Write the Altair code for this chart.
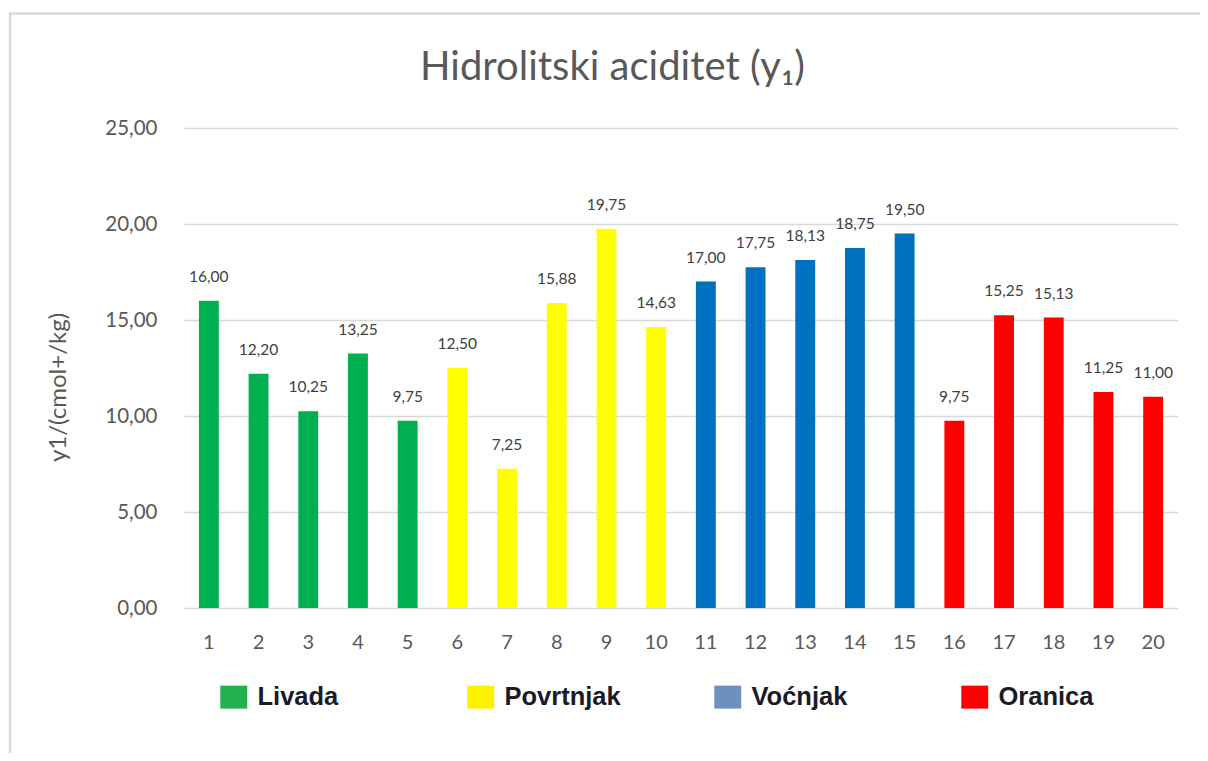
import altair as alt
import pandas as pd

title_text = "Hidrolitski aciditet (y\u2081)"
y_title = "y1/(cmol+/kg)"
samples = [str(i) for i in range(1, 21)]
values = [16.00, 12.20, 10.25, 13.25, 9.75,
          12.50, 7.25, 15.88, 19.75, 14.63,
          17.00, 17.75, 18.13, 18.75, 19.50,
          9.75, 15.25, 15.13, 11.25, 11.00]
groups = ["Livada"] * 5 + ["Povrtnjak"] * 5 + ["Voćnjak"] * 5 + ["Oranica"] * 5
group_names = ["Livada", "Povrtnjak", "Voćnjak", "Oranica"]
bar_colors = ["#00B050", "#FFFF00", "#0070C0", "#FF0000"]
legend_colors = ["#22B14C", "#FFF200", "#6F8FC0", "#FF0000"]
y_ticks = [0, 5, 10, 15, 20, 25]

df = pd.DataFrame({
    "sample": samples,
    "value": values,
    "group": groups,
    "label": [f"{v:.2f}".replace(".", ",") for v in values],
})

FONT = "Lato"
GRAY = "#595959"

x_enc = alt.X("sample:N", sort=samples,
              scale=alt.Scale(paddingInner=0.6, paddingOuter=0.3),
              axis=alt.Axis(title=None, labelAngle=0, domain=False, ticks=False,
                            labelFontSize=20, labelColor=GRAY, labelFont=FONT,
                            labelPadding=24, grid=False))
y_enc = alt.Y("value:Q", scale=alt.Scale(domain=[0, 25], nice=False),
              axis=alt.Axis(values=y_ticks, title=y_title,
                            labelExpr="replace(format(datum.value, '.2f'), '.', ',')",
                            domain=False, ticks=False, grid=True,
                            gridColor="#D9D9D9", gridWidth=1.5,
                            labelFontSize=20.5, labelColor=GRAY, labelFont=FONT,
                            labelPadding=27,
                            titleFontSize=24, titleColor=GRAY, titleFont=FONT,
                            titleFontWeight="normal", titleX=-126, titleY=259,
                            titleBaseline="middle"))

base = alt.Chart(df)

bars = base.mark_bar().encode(
    x=x_enc, y=y_enc,
    color=alt.Color("group:N", scale=alt.Scale(domain=group_names, range=bar_colors),
                    legend=None),
)

labels = base.mark_text(fontSize=15.5, color="#404040", font=FONT,
                        baseline="alphabetic", dy=-19).encode(
    x=alt.X("sample:N", sort=samples), y="value:Q", text="label:N"
)

legend_layer = base.mark_bar(opacity=0).encode(
    x=alt.X("sample:N", sort=samples), y="value:Q",
    color=alt.Color("group:N",
                    scale=alt.Scale(domain=group_names, range=legend_colors),
                    legend=alt.Legend(
                        title=None, orient="none", direction="horizontal",
                        columns=4, gridAlign="all", columnPadding=93,
                        legendX=37, legendY=556, padding=0,
                        symbolType="M-1.17,-1H1.17V1H-1.17Z", symbolSize=529,
                        symbolStrokeWidth=0, symbolOpacity=1,
                        labelFont="Liberation Sans", labelFontWeight="bold",
                        labelFontSize=25.5, labelColor="#1A1A2A", labelOffset=11,
                        labelLimit=300)),
)

title_df = pd.DataFrame({"t": [title_text]})
title = alt.Chart(title_df).mark_text(fontSize=40, color=GRAY, font=FONT,
                                      align="center", baseline="alphabetic").encode(
    text="t:N", x=alt.value(428.5), y=alt.value(-48)
)

frame = alt.Chart(title_df).mark_rect(fillOpacity=0, stroke="#D9D9D9", strokeWidth=2.5).encode(
    x=alt.value(-174), x2=alt.value(1200), y=alt.value(-114.5), y2=alt.value(800)
)

chart = alt.layer(frame, bars, labels, legend_layer, title).resolve_scale(
    color="independent"
).properties(
    width=994, height=480,
    autosize=alt.AutoSizeParams(type="none"),
    padding={"left": 176, "top": 120, "right": 22, "bottom": 145},
    background="white",
).configure_view(stroke=None)

chart.save("out.html", embed_options={"renderer": "svg", "actions": False})
